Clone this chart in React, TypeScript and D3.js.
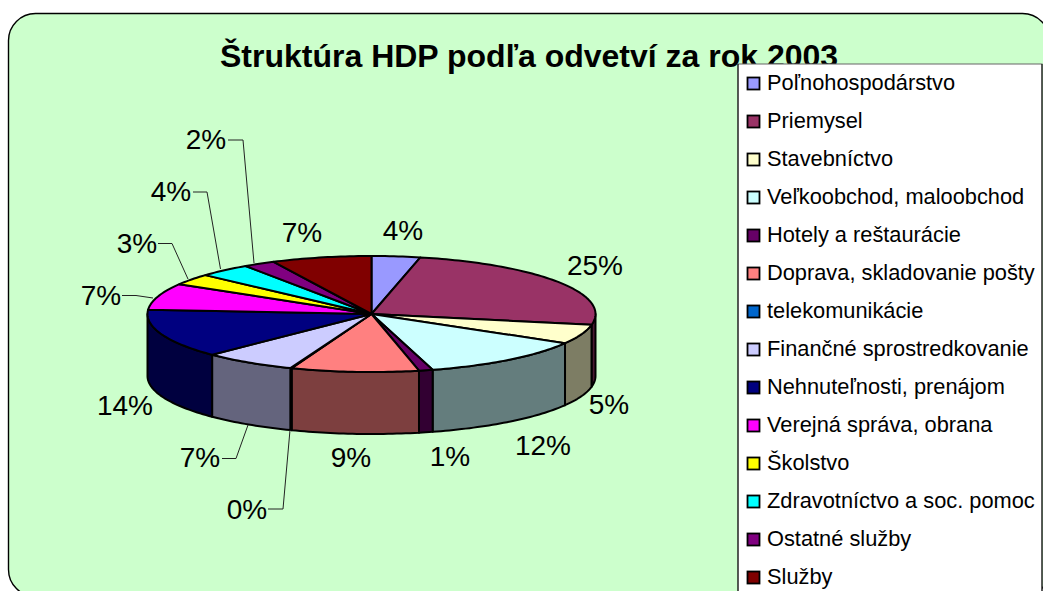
import React from "react";
import * as d3 from "d3";

const titleText = "Štruktúra HDP podľa odvetví za rok 2003";
const categories = ["Poľnohospodárstvo","Priemysel","Stavebníctvo","Veľkoobchod, maloobchod","Hotely a reštaurácie","Doprava, skladovanie pošty","telekomunikácie","Finančné sprostredkovanie","Nehnuteľnosti, prenájom","Verejná správa, obrana","Školstvo","Zdravotníctvo a soc. pomoc","Ostatné služby","Služby"];
const values = [3.5,24.5,5.4,12.2,1,9.2,0.1,6.7,13.6,7.4,3.1,3.8,2.3,7.2];
const colors = ["#9999FF","#993366","#FFFFCC","#CCFFFF","#660066","#FF8080","#0066CC","#CCCCFF","#000080","#FF00FF","#FFFF00","#00FFFF","#800080","#800000"];
const labelPos: [number, number][] = [[403,231],[595,266],[609,405],[543,446],[450,457],[351,458],[247,510],[200,458],[125,406],[101,296],[137,244],[171,192],[206,140],[302,233]];
const leaderPts: number[][][] = [[],[],[],[],[],[],[[268,509],[283,509],[290,430]],[[222,458.5],[236,458.5],[248,425]],[],[[122,295.5],[136,295.5],[153,298]],[[158,243.5],[172,243.5],[188,279]],[[193,192],[207,192],[220.5,269]],[[228,140],[243,140],[254,263]],[]];

const cx = 371.5, cy = 314, rx = 224, ry = 58, depth = 62;

function pt(a: number, dy = 0): [number, number] {
  return [cx + rx * Math.sin(a), cy - ry * Math.cos(a) + dy];
}
function arcPts(a0: number, a1: number, dy = 0): [number, number][] {
  const n = Math.max(2, Math.ceil((a1 - a0) / 0.02));
  return d3.range(n + 1).map((i) => pt(a0 + ((a1 - a0) * i) / n, dy));
}
const line = d3.line();

export default function App() {
  const arcs = d3.pie<number>().sort(null)(values);
  const sides: { d: string; fill: string; key: string }[] = [];
  arcs.forEach((a, i) => {
    const s = Math.max(a.startAngle, Math.PI / 2);
    const e = Math.min(a.endAngle, (3 * Math.PI) / 2);
    if (e <= s) return;
    const top = arcPts(s, e);
    const bot = arcPts(s, e, depth).reverse();
    sides.push({
      key: "s" + i,
      d: line([...top, ...bot])! + "Z",
      fill: d3.rgb(colors[i]).darker(1.99).formatHex(),
    });
  });
  const legY = d3.scalePoint<string>().domain(categories).range([84, 578]);
  return (
    <svg width={1043} height={591} style={{ position: "absolute", left: 0, top: 0, fontFamily: "'Liberation Sans', Arial, sans-serif" }}>
      <rect x={0} y={0} width={1043} height={591} fill="#fff" />
      <rect x={8.5} y={13.5} width={1041} height={583} rx={27} ry={27} fill="#CCFFCC" stroke="#000" strokeWidth={1.4} />
      <text x={220} y={67} fontSize={32} fontWeight="bold" fill="#000">{titleText}</text>
      {sides.map((s) => (
        <path key={s.key} d={s.d} fill={s.fill} stroke="#000" strokeWidth={2} strokeLinejoin="round" />
      ))}
      {arcs.map((a, i) => (
        <path key={i} d={line([[cx, cy], ...arcPts(a.startAngle, a.endAngle)])! + "Z"} fill={colors[i]} stroke="#000" strokeWidth={2} strokeLinejoin="round" />
      ))}
      {leaderPts.map((p, i) => p.length ? <path key={i} d={line(p as [number, number][])!} fill="none" stroke="#222" strokeWidth={1} /> : null)}
      {arcs.map((a, i) => (
        <text key={i} x={labelPos[i][0]} y={labelPos[i][1] + 2} textAnchor="middle" dominantBaseline="middle" fontSize={28} fill="#000">{Math.round(a.value) + "%"}</text>
      ))}
      <rect x={738} y={64} width={304} height={540} fill="#fff" stroke="#666" strokeWidth={1} />
      <line x1={738} y1={64} x2={738} y2={591} stroke="#000" strokeWidth={1} />
      <line x1={1042} y1={64} x2={1042} y2={591} stroke="#000" strokeWidth={1} />
      {categories.map((c, i) => (
        <g key={c}>
          <rect x={747.5} y={legY(c)! - 6.5} width={12} height={12} fill={colors[i]} stroke="#000" strokeWidth={1.8} />
          <text x={767} y={legY(c)!} dominantBaseline="middle" fontSize={21.8} fill="#000">{c}</text>
        </g>
      ))}
    </svg>
  );
}
